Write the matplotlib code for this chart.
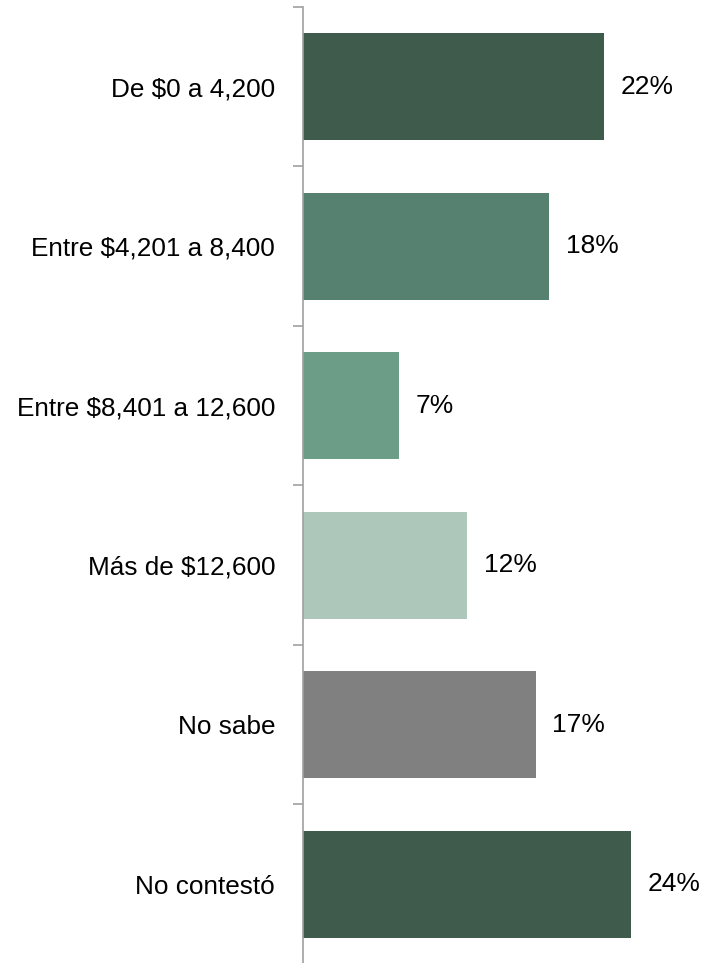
import matplotlib.pyplot as plt
from matplotlib import font_manager
import numpy as np

categories = ["De $0 a 4,200", "Entre $4,201 a 8,400", "Entre $8,401 a 12,600",
              "Más de $12,600", "No sabe", "No contestó"]
values = [22, 18, 7, 12, 17, 24]
colors = ["#3E5B4C", "#568070", "#6C9D86", "#ADC8BA", "#808080", "#3E5B4C"]

names = {f.name for f in font_manager.fontManager.ttflist}
fam = "Liberation Sans Narrow" if "Liberation Sans Narrow" in names else "Liberation Sans"
plt.rcParams['font.family'] = [fam, 'DejaVu Sans']

fig = plt.figure(figsize=(7.04, 9.63), dpi=100)
ax = fig.add_axes([303 / 704, -1 / 963, 401 / 704, 957 / 963])

y = np.arange(len(categories))
ax.barh(y, values, height=0.67, color=colors)
ax.set_ylim(len(categories) - 0.5, -0.5)
ax.set_xlim(0, 401 / 13.68)

# category labels, tick marks on the boundaries
ax.set_yticks(y)
ax.set_yticklabels(categories, fontsize=18.8)
ax.tick_params(axis='y', which='major', length=0, pad=20)
ax.set_yticks(np.arange(len(categories) + 1) - 0.5, minor=True)
ax.tick_params(axis='y', which='minor', length=7, color='#A0A0A0', width=1.2)
ax.set_xticks([])

for s in ['top', 'right', 'bottom']:
    ax.spines[s].set_visible(False)
ax.spines['left'].set_color('#A0A0A0')
ax.spines['left'].set_linewidth(1.2)

for yi, v in zip(y, values):
    ax.annotate(f"{v}%", (v, yi), xytext=(12, 0), textcoords='offset points',
                va='center', ha='left', fontsize=19)

fig.savefig('out.png', dpi=100)
